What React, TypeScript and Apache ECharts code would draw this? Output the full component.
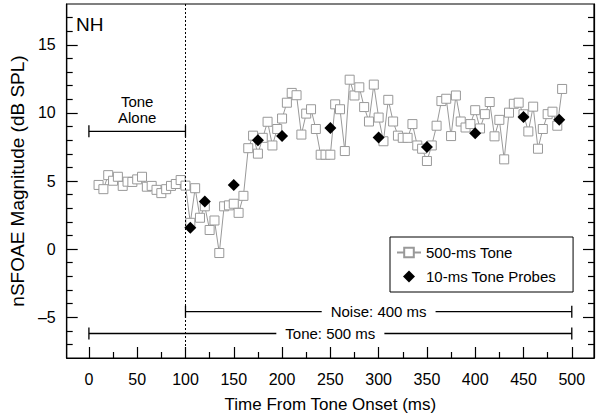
import React, { useEffect, useRef } from "react";
import * as echarts from "echarts";

const FONT = '"Liberation Sans", Arial, Helvetica, sans-serif';

// 500-ms tone: time (ms) and magnitude (dB SPL)
const toneTimes = [
  10, 15, 20, 25, 30, 35, 40, 45, 50, 55, 60, 65, 70, 75, 80, 85, 90, 95, 100,
  105, 110, 115, 120, 125, 130, 135, 140, 145, 150, 155, 160, 165, 170, 175, 180,
  185, 190, 195, 200, 205, 210, 215, 220, 225, 230, 235, 240, 245, 250, 255, 260,
  265, 270, 275, 280, 285, 290, 295, 300, 305, 310, 315, 320, 325, 330, 335, 340,
  345, 350, 355, 360, 365, 370, 375, 380, 385, 390, 395, 400, 405, 410, 415, 420,
  425, 430, 435, 440, 445, 450, 455, 460, 465, 470, 475, 480, 485, 490,
];
const toneValues = [
  4.71, 4.4, 5.43, 5.02, 5.31, 4.64, 4.95, 4.93, 5.12, 5.31, 4.58, 4.64, 4.35, 4.11, 4.4, 4.64, 4.78, 5.07, 4.66,
  1.93, 4.47, 2.3, 3.14, 1.4, 2.1, -0.29, 3.14, 3.21, 3.33, 2.66, 3.91, 7.41, 8.33, 7.01, 8.17,
  9.35, 7.61, 8.82, 9.59, 10.75, 11.47, 11.3, 8.41, 9.95, 10.27, 8.82, 6.93, 6.93, 6.93, 10.63, 10.27,
  7.2, 12.44, 11.28, 11.88, 10.43, 9.37, 12.08, 9.66, 7.92, 10.96, 9.37, 8.33, 8.17, 8.17, 9.18, 7.61,
  7.37, 6.47, 7.61, 9.06, 10.87, 11.04, 8.3, 11.28, 9.37, 8.93, 9.18, 10.2, 8.86, 9.91, 10.8, 8.28,
  9.49, 6.59, 10.02, 10.67, 10.75, 9.9, 8.64, 10.46, 7.37, 8.82, 9.91, 10.09, 9.06, 11.76,
];

// 10-ms tone probes
const probeTimes = [105, 120, 150, 175, 200, 250, 300, 350, 400, 450, 487];
const probeValues = [1.57, 3.5, 4.7, 8.0, 8.3, 8.9, 8.2, 7.5, 8.5, 9.7, 9.5];

// Stimulus brackets
const bracketLabels = ["Tone\nAlone", "Noise: 400 ms", "Tone: 500 ms"];
const bracketStart = [0, 100, 0];
const bracketEnd = [100, 500, 500];
const bracketLevel = [8.65, -4.6, -6.2];

// Axis ticks
const xMajor = [0, 50, 100, 150, 200, 250, 300, 350, 400, 450, 500];
const xMinor = [25, 75, 125, 175, 225, 275, 325, 375, 425, 475];
const yMajor = [-5, 0, 5, 10, 15];
const yMinor = [-7, -6, -4, -3, -2, -1, 1, 2, 3, 4, 6, 7, 8, 9, 11, 12, 13, 14, 16, 17];

const onsetTime = 100;
const seriesNames = ["500-ms Tone", "10-ms Tone Probes"];

const X_MIN = -23;
const X_MAX = 523;
const Y_MIN = -8;
const Y_MAX = 18;

export default function App() {
  const ref = useRef<HTMLDivElement>(null);

  useEffect(() => {
    document.body.style.margin = "0";
    if (!ref.current) return;
    const chart = echarts.init(ref.current, undefined, { renderer: "svg" });

    const tickStyle = { color: "#000", width: 1.2 };
    const xBase = {
      type: "value",
      min: X_MIN,
      max: X_MAX,
      position: "bottom",
      splitLine: { show: false },
    };
    const yBase = {
      type: "value",
      min: Y_MIN,
      max: Y_MAX,
      splitLine: { show: false },
    };

    const option: any = {
      animation: false,
      backgroundColor: "#fff",
      grid: {
        left: 61,
        right: 6,
        top: 4,
        bottom: 61,
        show: true,
        borderColor: "#000",
        borderWidth: 1.2,
        backgroundColor: "transparent",
      },
      legend: {
        orient: "vertical",
        left: 390,
        top: 237,
        padding: [8, 17, 8, 6],
        itemGap: 9,
        itemWidth: 24,
        itemHeight: 12,
        symbolKeepAspect: true,
        borderColor: "#000",
        borderWidth: 1,
        borderRadius: 0,
        backgroundColor: "#fff",
        selectedMode: false,
        textStyle: { fontSize: 15, color: "#000", fontFamily: FONT },
        data: [
          { name: seriesNames[0] },
          { name: seriesNames[1], icon: "path://M0,-1L1,0L0,1L-1,0Z" },
        ],
      },
      xAxis: [
        {
          ...xBase,
          axisLine: { show: true, onZero: false, lineStyle: tickStyle },
          axisTick: { show: true, inside: true, length: 11, customValues: xMajor, lineStyle: tickStyle },
          axisLabel: { customValues: xMajor, margin: 13, fontSize: 16, color: "#000", fontFamily: FONT },
          name: "Time From Tone Onset (ms)",
          nameLocation: "middle",
          nameGap: 38,
          nameTextStyle: { fontSize: 17, color: "#000", fontFamily: FONT },
        },
        {
          ...xBase,
          axisLine: { show: false, onZero: false },
          axisTick: { show: true, inside: true, length: 6, customValues: xMinor, lineStyle: tickStyle },
          axisLabel: { show: false },
        },
      ],
      yAxis: [
        {
          ...yBase,
          position: "left",
          axisLine: { show: true, onZero: false, lineStyle: tickStyle },
          axisTick: { show: true, inside: true, length: 11, customValues: yMajor, lineStyle: tickStyle },
          axisLabel: {
            customValues: yMajor,
            margin: 11,
            fontSize: 16,
            color: "#000",
            fontFamily: FONT,
            formatter: (v: number) => String(v).replace("-", "\u2013"),
          },
          name: "nSFOAE Magnitude (dB SPL)",
          nameLocation: "middle",
          nameGap: 34,
          nameTextStyle: { fontSize: 19, color: "#000", fontFamily: FONT },
        },
        {
          ...yBase,
          position: "left",
          axisLine: { show: false, onZero: false },
          axisTick: { show: true, inside: true, length: 6, customValues: yMinor, lineStyle: tickStyle },
          axisLabel: { show: false },
        },
        {
          ...yBase,
          position: "right",
          axisLine: { show: true, onZero: false, lineStyle: tickStyle },
          axisTick: { show: true, inside: true, length: 11, customValues: yMajor, lineStyle: tickStyle },
          axisLabel: { show: false },
        },
        {
          ...yBase,
          position: "right",
          axisLine: { show: false, onZero: false },
          axisTick: { show: true, inside: true, length: 6, customValues: yMinor, lineStyle: tickStyle },
          axisLabel: { show: false },
        },
      ],
      graphic: [
        {
          type: "text",
          left: 76,
          top: 15,
          style: { text: "NH", font: `19px ${FONT}`, fill: "#000" },
        },
      ],
      series: [
        {
          type: "custom",
          name: "brackets",
          xAxisIndex: 0,
          yAxisIndex: 0,
          z: 2,
          silent: true,
          data: bracketStart.map((s, i) => [s, bracketEnd[i], bracketLevel[i], i]),
          renderItem: (params: any, api: any) => {
            const i = api.value(3);
            const p0 = api.coord([api.value(0), api.value(2)]);
            const p1 = api.coord([api.value(1), api.value(2)]);
            const cap = 6;
            const ls = { stroke: "#000", lineWidth: 1.3 };
            const midX = (p0[0] + p1[0]) / 2;
            const label = bracketLabels[i];
            const above = label.indexOf("\n") >= 0;
            const children: any[] = [
              { type: "line", shape: { x1: p0[0], y1: p0[1], x2: p1[0], y2: p1[1] }, style: ls },
              { type: "line", shape: { x1: p0[0], y1: p0[1] - cap, x2: p0[0], y2: p0[1] + cap }, style: ls },
              { type: "line", shape: { x1: p1[0], y1: p1[1] - cap, x2: p1[0], y2: p1[1] + cap }, style: ls },
            ];
            if (above) {
              children.push({
                type: "text",
                x: midX,
                y: p0[1] - 6,
                z2: 10,
                style: {
                  text: label,
                  fill: "#000",
                  font: `15px ${FONT}`,
                  lineHeight: 16,
                  align: "center",
                  verticalAlign: "bottom",
                },
              });
            } else {
              children.push({
                type: "text",
                x: midX,
                y: p0[1],
                z2: 10,
                style: {
                  text: label,
                  fill: "#000",
                  font: `15px ${FONT}`,
                  align: "center",
                  verticalAlign: "middle",
                  backgroundColor: "#fff",
                  padding: [1, 9, 1, 9],
                },
              });
            }
            return { type: "group", children };
          },
        },
        {
          type: "line",
          name: seriesNames[0],
          xAxisIndex: 0,
          yAxisIndex: 0,
          z: 3,
          data: toneTimes.map((t, i) => [t, toneValues[i]]),
          symbol: "rect",
          symbolSize: 9,
          showAllSymbol: true,
          lineStyle: { color: "#999", width: 1 },
          itemStyle: { color: "#fff", borderColor: "#999", borderWidth: 1 },
          markLine: {
            silent: true,
            symbol: ["none", "none"],
            label: { show: false },
            lineStyle: { color: "#000", width: 1, type: [2, 2] },
            data: [{ xAxis: onsetTime }],
          },
        },
        {
          type: "scatter",
          name: seriesNames[1],
          xAxisIndex: 0,
          yAxisIndex: 0,
          z: 4,
          data: probeTimes.map((t, i) => [t, probeValues[i]]),
          symbol: "diamond",
          symbolSize: 12,
          itemStyle: { color: "#000", opacity: 1 },
        },
      ],
    };

    chart.setOption(option);
    return () => chart.dispose();
  }, []);

  return <div ref={ref} style={{ width: 600, height: 419 }} />;
}
